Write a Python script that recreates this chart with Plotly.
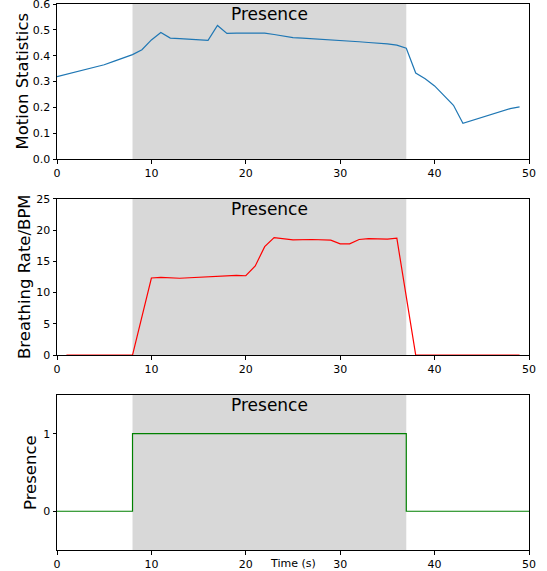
import plotly.graph_objects as go
from plotly.subplots import make_subplots

# Motion statistics
motion_t = list(range(0, 50))
motion_v = [0.319, 0.328, 0.337, 0.346, 0.356, 0.365, 0.378, 0.391, 0.404, 0.423,
            0.461, 0.490, 0.468, 0.466, 0.464, 0.462, 0.459, 0.517, 0.486, 0.487,
            0.488, 0.488, 0.487, 0.482, 0.475, 0.470, 0.468, 0.466, 0.464, 0.462,
            0.460, 0.457, 0.454, 0.451, 0.449, 0.446, 0.441, 0.429, 0.333, 0.311,
            0.283, 0.247, 0.208, 0.138, 0.150, 0.161, 0.171, 0.184, 0.195, 0.202]

# Breathing rate
breath_t = [1, 2, 3, 4, 5, 6, 7, 8, 10, 11, 13, 17, 18, 19, 20, 21, 22, 23, 25, 27,
            29, 30, 31, 32, 33, 35, 36, 38, 40, 45, 49]
breath_v = [0, 0, 0, 0, 0, 0, 0, 0, 12.34, 12.45, 12.3, 12.55, 12.7, 12.77, 12.7,
            14.26, 17.36, 18.8, 18.43, 18.5, 18.4, 17.8, 17.8, 18.5, 18.65, 18.55,
            18.7, 0, 0, 0, 0]

# Presence
pres_t = [0, 8, 8, 37, 37, 50]
pres_v = [0, 0, 1, 1, 0, 0]

presence_start, presence_end = 8, 37
label_text = "Presence"

FONT = "DejaVu Sans"

fig = make_subplots(rows=3, cols=1, vertical_spacing=0.073)

fig.add_trace(go.Scatter(x=motion_t, y=motion_v, mode="lines",
                         line=dict(color="#1f77b4", width=1.2)), row=1, col=1)
fig.add_trace(go.Scatter(x=breath_t, y=breath_v, mode="lines",
                         line=dict(color="red", width=1.2)), row=2, col=1)
fig.add_trace(go.Scatter(x=pres_t, y=pres_v, mode="lines",
                         line=dict(color="green", width=1.2)), row=3, col=1)

domains = [[0.716, 1.0], [0.357, 0.643], [0.0, 0.284]]
yranges = [[0, 0.6], [0, 25], [-0.5, 1.5]]
ytitles = ["Motion Statistics", "Breathing Rate/BPM", "Presence"]
ytitle_shift = [-34, -33, -26.5]
yticks = [[0, 0.1, 0.2, 0.3, 0.4, 0.5, 0.6], [0, 5, 10, 15, 20, 25], [0, 1]]
yfmt = [".1f", "d", "d"]

for i in range(3):
    r = i + 1
    sfx = "" if r == 1 else str(r)
    fig.add_shape(type="rect", x0=presence_start, x1=presence_end, y0=0, y1=1,
                  xref="x" + sfx, yref="y" + sfx + " domain",
                  fillcolor="#d8d8d8", line_width=0, layer="below")
    fig.add_annotation(x=(presence_start + presence_end) / 2, y=1, xref="x" + sfx,
                       yref="y" + sfx + " domain", yanchor="top", yshift=2,
                       text=label_text, showarrow=False,
                       font=dict(family=FONT, size=17, color="black"))
    fig.add_annotation(x=0, y=0.5, xref="paper", yref="y" + sfx + " domain",
                       xanchor="center", yanchor="middle", xshift=ytitle_shift[i],
                       textangle=-90, text=ytitles[i], showarrow=False,
                       font=dict(family=FONT, size=16.5, color="black"))
    fig.update_xaxes(range=[0, 50], tickvals=[0, 10, 20, 30, 40, 50],
                     showgrid=False, zeroline=False, showline=True, mirror=True,
                     linecolor="black", linewidth=1, ticks="outside", ticklen=3.5,
                     tickcolor="black", tickfont=dict(family=FONT, size=11, color="black"),
                     automargin=False, ticklabeloverflow="allow", row=r, col=1)
    fig.update_yaxes(range=yranges[i], tickvals=yticks[i], tickformat=yfmt[i],
                     domain=domains[i],
                     showgrid=False, zeroline=False, showline=True, mirror=True,
                     linecolor="black", linewidth=1, ticks="outside", ticklen=3.5,
                     tickcolor="black", tickfont=dict(family=FONT, size=11, color="black"),
                     automargin=False, ticklabeloverflow="allow", row=r, col=1)

fig.add_annotation(x=0.5, y=-0.024, xref="paper", yref="paper", text="Time (s)",
                   showarrow=False, yanchor="middle",
                   font=dict(family=FONT, size=11, color="black"))

fig.update_layout(width=547, height=571, showlegend=False,
                  margin=dict(l=57, r=18, t=4, b=21),
                  plot_bgcolor="white", paper_bgcolor="white",
                  font=dict(family=FONT))

fig.write_html("out.html", config={"displayModeBar": False},
               post_script="document.body.style.margin='0px';")
